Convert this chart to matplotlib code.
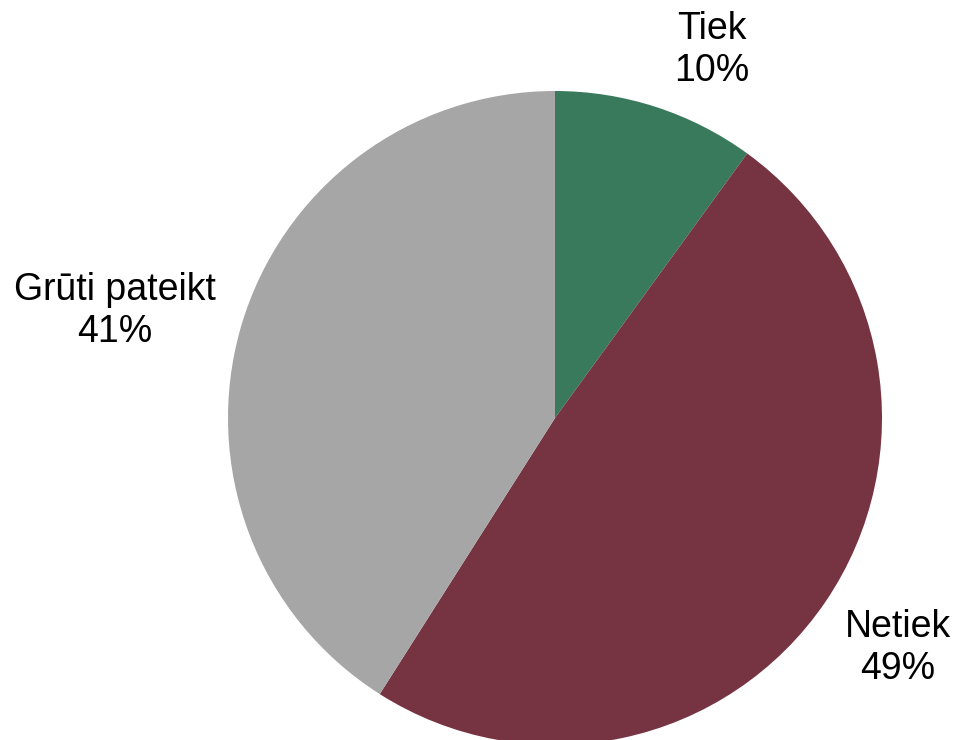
import matplotlib.pyplot as plt
import numpy as np

labels = ["Tiek", "Netiek", "Grūti pateikt"]
values = [10, 49, 41]
colors = ["#3a7a5c", "#763342", "#a6a6a6"]
# label centres in figure pixels (x from left, y from top)
label_pos = [(712, 50), (898, 648), (115, 311)]

plt.rcParams['font.family'] = ['Liberation Sans', 'DejaVu Sans']

W, H = 958, 740
fig = plt.figure(figsize=(W / 100, H / 100), dpi=100)
ax = fig.add_axes([0, 0, 1, 1])

cx, cy, r = 555, H - 418, 327
wedges, _ = ax.pie(values, colors=colors, startangle=90, counterclock=False,
                   center=(cx, cy), radius=r, frame=True)
ax.set_xlim(0, W)
ax.set_ylim(0, H)
ax.set_aspect('equal')
ax.axis('off')

for lab, v, (x, y) in zip(labels, values, label_pos):
    ax.text(x, H - y, f"{lab}\n{v}%", ha='center', va='center', fontsize=27,
            linespacing=1.2)

fig.savefig("out.png", dpi=100)
